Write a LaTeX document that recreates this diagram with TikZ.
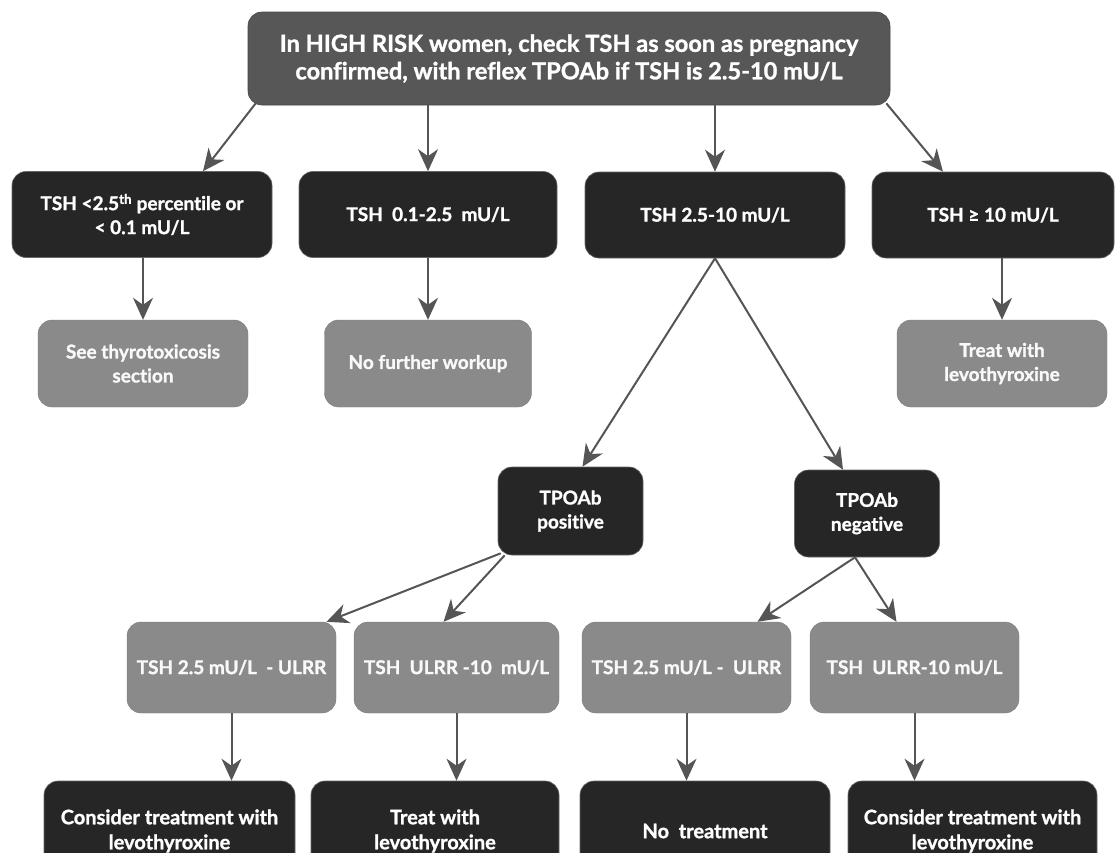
\documentclass[tikz,border=0pt]{standalone}
\usepackage{fontspec}
\setmainfont{Lato}[Ligatures={NoCommon}, BoldFeatures={FakeBold=1.2}]
\usetikzlibrary{arrows.meta,calc}
\definecolor{topc}{HTML}{575757}
\definecolor{darkc}{HTML}{262626}
\definecolor{grayc}{HTML}{8A8A8A}
\definecolor{arrc}{HTML}{555555}
\tikzset{
  box/.style={rounded corners=14pt, align=center, text=white, inner sep=0pt,
    font=\bfseries\fontsize{19}{24}\selectfont},
  topbox/.style={box, fill=topc, draw=topc!80!black, line width=0.6pt,
    font=\bfseries\fontsize{23.6}{27.5}\selectfont},
  darkbox/.style={box, fill=darkc, draw=darkc!70!white, line width=0.6pt},
  endbox/.style={darkbox, font=\bfseries\fontsize{20}{25}\selectfont},
  graybox/.style={box, fill=grayc, draw=grayc!90!black, line width=0.4pt, text=white!95!gray},
  arr/.style={draw=arrc, line width=2pt, -{Stealth[length=22pt,width=20pt,inset=7pt]}}
}
\begin{document}
\begin{tikzpicture}[x=1pt,y=-1pt]
\useasboundingbox (0,0) rectangle (1119,852);
\clip (0,0) rectangle (1119,852);
\fill[white] (0,0) rectangle (1119,852);
% top
\node[topbox, minimum width=642pt, minimum height=93pt] (top) at (569,58.5)
  {In HIGH RISK women, check TSH as soon as pregnancy\\confirmed, with reflex TPOAb if TSH is 2.5-10 mU/L};
% row 1
\node[darkbox, minimum width=260pt, minimum height=86pt] (A) at (142,214.5)
  {TSH <2.5\textsuperscript{th} percentile or\\< 0.1 mU/L};
\node[darkbox, minimum width=258pt, minimum height=86pt] (B) at (428,214.5)
  {TSH\ \ 0.1-2.5\ \ mU/L};
\node[darkbox, minimum width=260pt, minimum height=86pt] (C) at (715,215)
  {TSH 2.5-10 mU/L};
\node[darkbox, minimum width=242pt, minimum height=86pt] (D) at (993,215)
  {TSH ≥ 10 mU/L};
% row 2
\node[graybox, minimum width=210pt, minimum height=87pt] (A2) at (143,363.5)
  {See thyrotoxicosis\\section};
\node[graybox, minimum width=207pt, minimum height=87pt] (B2) at (428,363.5)
  {No further workup};
\node[graybox, minimum width=210pt, minimum height=87pt] (D2) at (1002,363.5)
  {Treat with\\levothyroxine};
% row 3
\node[darkbox, minimum width=145pt, minimum height=88pt] (P) at (570.5,511)
  {TPOAb\\positive};
\node[darkbox, minimum width=145pt, minimum height=87pt] (N) at (867,513.5)
  {TPOAb\\negative};
% row 4
\node[graybox, minimum width=209pt, minimum height=91pt] (R1) at (231.5,667.5)
  {TSH 2.5 mU/L\ \ - ULRR};
\node[graybox, minimum width=205pt, minimum height=91pt] (R2) at (456.5,667.5)
  {TSH\ \ ULRR -10\ \ mU/L};
\node[graybox, minimum width=209pt, minimum height=91pt] (R3) at (686.5,667.5)
  {TSH 2.5 mU/L -\ \ ULRR};
\node[graybox, minimum width=209pt, minimum height=91pt] (R4) at (914.5,667.5)
  {TSH\ \ ULRR-10 mU/L};
% row 5
\node[endbox, minimum width=251pt, minimum height=100pt] (L1) at (169.5,831)
  {Consider treatment with\\levothyroxine};
\node[endbox, minimum width=248pt, minimum height=100pt] (L2) at (435,831)
  {Treat with\\levothyroxine};
\node[endbox, minimum width=250pt, minimum height=100pt] (L3) at (705,831)
  {No\ \ treatment};
\node[endbox, minimum width=249pt, minimum height=100pt] (L4) at (972.5,831)
  {Consider treatment with\\levothyroxine};
% arrows
\draw[arr] ([xshift=8pt,yshift=2pt]top.south west) -- ([xshift=61pt]A.north);
\draw[arr] (top.south -| B.north) -- (B.north);
\draw[arr] (top.south -| C.north) -- (C.north);
\draw[arr] ([xshift=-4pt,yshift=2pt]top.south east) -- ([xshift=-50pt]D.north);
\draw[arr] (A2.north |- A.south) -- (A2.north);
\draw[arr] (B2.north |- B.south) -- (B2.north);
\draw[arr] (D2.north |- D.south) -- (D2.north);
\draw[arr] (C.south) -- ([xshift=12pt]P.north);
\draw[arr] (C.south) -- ([xshift=-24pt]N.north);
\draw[arr] ([xshift=3pt,yshift=2pt]P.south west) -- ([xshift=95pt]R1.north);
\draw[arr] ([xshift=7pt]P.south west) -- ([xshift=-13pt]R2.north);
\draw[arr] ([xshift=-12pt]N.south) -- ([xshift=71pt]R3.north);
\draw[arr] ([xshift=-12pt]N.south) -- ([xshift=-18pt]R4.north);
\draw[arr] (R1.south) -- (R1.south |- L1.north);
\draw[arr] (R2.south) -- (R2.south |- L2.north);
\draw[arr] (R3.south) -- (R3.south |- L3.north);
\draw[arr] (R4.south) -- (R4.south |- L4.north);
\end{tikzpicture}
\end{document}
